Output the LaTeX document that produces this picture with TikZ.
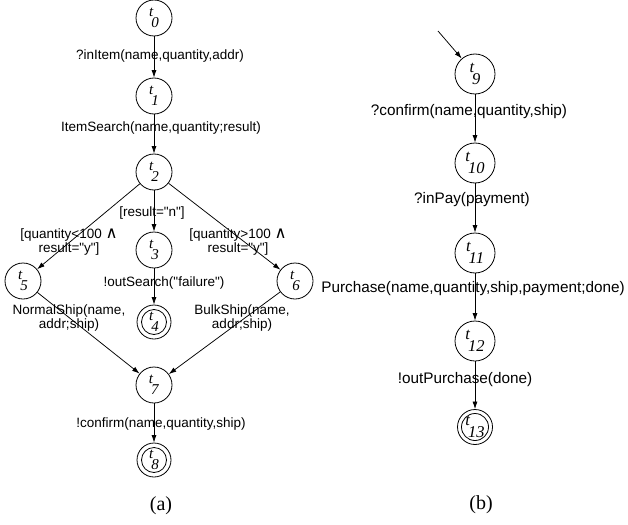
\documentclass[tikz,border=0pt]{standalone}
\usepackage{fontspec}
\setmainfont{Liberation Serif}
\newfontfamily\lsans{Liberation Sans}
\newfontfamily\djv{DejaVu Sans}
\usetikzlibrary{arrows.meta}
\newcommand{\tsub}[1]{\textit{t}\kern-2.2pt\raisebox{-0.72em}{\textit{#1}}}
\newcommand{\andsym}{{\djv\fontsize{16.5}{13.5}\selectfont ∧}}
\begin{document}
\begin{tikzpicture}[x=1pt,y=-1pt,
  st/.style={circle, draw, line width=0.8pt, minimum size=36pt, inner sep=0pt, font=\fontsize{15}{15}\selectfont},
  rst/.style={st, minimum size=40pt, font=\fontsize{16.5}{16.5}\selectfont},
  fin/.style={st, minimum size=34pt, path picture={\draw[line width=0.8pt] (path picture bounding box.center) circle (12.5pt);}},
  rfin/.style={rst, minimum size=35pt, path picture={\draw[line width=0.8pt] (path picture bounding box.center) circle (13.5pt);}},
  e/.style={-{Latex[length=7.5pt,width=5pt]}, line width=0.75pt},
  lab/.style={inner sep=0pt, align=center, font=\lsans\fontsize{13.5}{13.5}\selectfont},
  rlab/.style={inner sep=0pt, align=center, font=\lsans\fontsize{15.3}{15.3}\selectfont},
  captxt/.style={inner sep=0pt, font=\fontsize{20}{20}\selectfont}]
\useasboundingbox (0,0) rectangle (628,524);
% left automaton
\node[st] (t0) at (154,18) {\tsub{0}};
\node[st] (t1) at (154,96) {\tsub{1}};
\node[st] (t2) at (154,172) {\tsub{2}};
\node[st] (t3) at (154,250) {\tsub{3}};
\node[fin] (t4) at (154,322) {\tsub{4}};
\node[st] (t5) at (23,281) {\tsub{5}};
\node[st] (t6) at (295,281) {\tsub{6}};
\node[st] (t7) at (154,385) {\tsub{7}};
\node[fin] (t8) at (154,460) {\tsub{8}};
\draw[e] (t0) -- (t1);
\draw[e] (t1) -- (t2);
\draw[e] (t2) -- (t3);
\draw[e] (t2) -- (t5);
\draw[e] (t2) -- (t6);
\draw[e] (t3) -- (t4);
\draw[e] (t5) -- (t7);
\draw[e] (t6) -- (t7);
\draw[e] (t7) -- (t8);
\node[lab] (l1) at (160,56) {?inItem(name,quantity,addr)};
\node[lab] (l2) at (161,128) {ItemSearch(name,quantity;result)};
\node[lab] (l3) at (152,213) {[result="n"]};
\node[lab] (l4) at (69,242) {[quantity<100 \andsym\\result="y"]};
\node[lab] (l5) at (238,242) {[quantity>100 \andsym\\result="y"]};
\node[lab] (l6) at (164,283) {!outSearch("failure")};
\node[lab] (l7) at (69,318) {NormalShip(name,\\addr;ship)};
\node[lab] (l8) at (242,318) {BulkShip(name,\\addr;ship)};
\node[lab] (l9) at (161,424) {!confirm(name,quantity,ship)};
\node[captxt] (ca) at (161,506) {(a)};
% right automaton
\coordinate (init) at (438,31);
\node[rst] (t9) at (475,74) {\tsub{9}};
\node[rst] (t10) at (475,163) {\tsub{10}};
\node[rst] (t11) at (475,253) {\tsub{11}};
\node[rst] (t12) at (475,341) {\tsub{12}};
\node[rfin] (t13) at (475,427) {\tsub{13}};
\draw[e] (init) -- (t9);
\draw[e] (t9) -- (t10);
\draw[e] (t10) -- (t11);
\draw[e] (t11) -- (t12);
\draw[e] (t12) -- (t13);
\node[rlab] (r1) at (469,112) {?confirm(name,quantity,ship)};
\node[rlab] (r2) at (472,200) {?inPay(payment)};
\node[rlab] (r3) at (473,289) {Purchase(name,quantity,ship,payment;done)};
\node[rlab] (r4) at (465,380) {!outPurchase(done)};
\node[captxt] (cb) at (481,505) {(b)};
\end{tikzpicture}
\end{document}
